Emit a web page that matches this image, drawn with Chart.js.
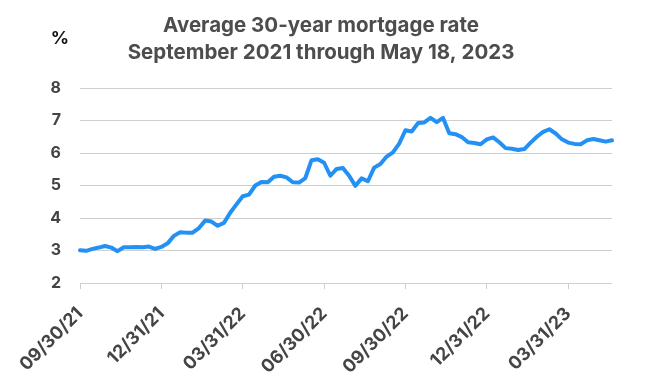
<!DOCTYPE html>
<html>
<head>
<meta charset="utf-8">
<script src="https://cdn.jsdelivr.net/npm/chart.js@4"></script>
<style>
  html, body { margin: 0; padding: 0; background: #fff; }
  #wrap { width: 647px; height: 387px; }
</style>
</head>
<body>
<div id="wrap"><canvas id="grafico_taxa"></canvas></div>
<script>
// semanas (Freddie Mac PMMS)
const datas = [
  '09/30/21','10/07/21','10/14/21','10/21/21','10/28/21','11/04/21','11/10/21','11/18/21','11/24/21','12/02/21',
  '12/09/21','12/16/21','12/23/21','12/30/21','01/06/22','01/13/22','01/20/22','01/27/22','02/03/22','02/10/22',
  '02/17/22','02/24/22','03/03/22','03/10/22','03/17/22','03/24/22','03/31/22','04/07/22','04/14/22','04/21/22',
  '04/28/22','05/05/22','05/12/22','05/19/22','05/26/22','06/02/22','06/09/22','06/16/22','06/23/22','06/30/22',
  '07/07/22','07/14/22','07/21/22','07/28/22','08/04/22','08/11/22','08/18/22','08/25/22','09/01/22','09/08/22',
  '09/15/22','09/22/22','09/29/22','10/06/22','10/13/22','10/20/22','10/27/22','11/03/22','11/10/22','11/17/22',
  '11/23/22','12/01/22','12/08/22','12/15/22','12/22/22','12/29/22','01/05/23','01/12/23','01/19/23','01/26/23',
  '02/02/23','02/09/23','02/16/23','02/23/23','03/02/23','03/09/23','03/16/23','03/23/23','03/30/23','04/06/23',
  '04/13/23','04/20/23','04/27/23','05/04/23','05/11/23','05/18/23'
];

const taxas = [
  3.01, 2.99, 3.05, 3.09, 3.14, 3.09, 2.98, 3.10, 3.10, 3.11,
  3.10, 3.12, 3.05, 3.11, 3.22, 3.45, 3.56, 3.55, 3.55, 3.69,
  3.92, 3.89, 3.76, 3.85, 4.16, 4.42, 4.67, 4.72, 5.00, 5.11,
  5.10, 5.27, 5.30, 5.25, 5.10, 5.09, 5.23, 5.78, 5.81, 5.70,
  5.30, 5.51, 5.54, 5.30, 4.99, 5.22, 5.13, 5.55, 5.66, 5.89,
  6.02, 6.29, 6.70, 6.66, 6.92, 6.94, 7.08, 6.95, 7.08, 6.61,
  6.58, 6.49, 6.33, 6.31, 6.27, 6.42, 6.48, 6.33, 6.15, 6.13,
  6.09, 6.12, 6.32, 6.50, 6.65, 6.73, 6.60, 6.42, 6.32, 6.28,
  6.27, 6.39, 6.43, 6.39, 6.35, 6.39
];

// rótulos mostrados no eixo x
const rotulos_x = ['09/30/21', '12/30/21', '03/31/22', '06/30/22', '09/29/22', '12/29/22', '03/30/23'];
const textos_x = ['09/30/21', '12/31/21', '03/31/22', '06/30/22', '09/30/22', '12/31/22', '03/31/23'];

const titulo = ['Average 30-year mortgage rate', 'September 2021 through May 18, 2023'];

const azul = '#2391F3';
const cinza = '#cfcfcf';
const texto = '#444444';
const fonte = 'Inter, "Liberation Sans", sans-serif';

// título e "%" desenhados à mão
const cabecalho = {
  id: 'cabecalho',
  afterDraw(chart) {
    const c = chart.ctx;
    c.save();
    c.font = 'bold 20.5px ' + fonte;
    c.fillStyle = '#4d4d4d';
    c.textAlign = 'center';
    c.textBaseline = 'alphabetic';
    c.fillText(titulo[0], 321, 32);
    c.fillText(titulo[1], 321, 59);
    c.font = 'bold 18px ' + fonte;
    c.fillStyle = '#111';
    c.textBaseline = 'middle';
    c.fillText('%', 60, 39);
    c.restore();
  }
};

const ctx1 = document.getElementById('grafico_taxa');

new Chart(ctx1, {
  type: 'line',
  data: {
    labels: datas,
    datasets: [{
      data: taxas,
      borderColor: azul,
      borderWidth: 4,
      pointRadius: 0,
      tension: 0,
      borderJoinStyle: 'round',
      borderCapStyle: 'round'
    }]
  },
  options: {
    responsive: true,
    maintainAspectRatio: false,
    animation: false,
    layout: {
      padding: { left: 0, right: 35, top: 88, bottom: 0 }
    },
    scales: {
      x: {
        offset: false,
        border: { display: false },
        afterFit: s => { s.height = 104; },
        grid: {
          drawOnChartArea: false,
          tickLength: 6,
          color: c => rotulos_x.includes(datas[c.index]) ? cinza : 'rgba(0,0,0,0)'
        },
        ticks: {
          autoSkip: false,
          maxRotation: 45,
          minRotation: 45,
          padding: 14,
          color: texto,
          font: { family: fonte, size: 18, weight: 'bold' },
          callback: function (val, i) {
            const k = rotulos_x.indexOf(datas[i]);
            return k >= 0 ? textos_x[k] : '';
          }
        }
      },
      y: {
        min: 2,
        max: 8,
        border: { display: false },
        afterFit: s => { s.width = 80; },
        grid: {
          color: cinza,
          lineWidth: 1,
          drawTicks: false
        },
        ticks: {
          stepSize: 1,
          padding: 19,
          color: texto,
          font: { family: fonte, size: 16, weight: 'bold' }
        }
      }
    },
    plugins: {
      legend: { display: false },
      tooltip: { enabled: false },
      title: { display: false }
    }
  },
  plugins: [cabecalho]
});
</script>
</body>
</html>
